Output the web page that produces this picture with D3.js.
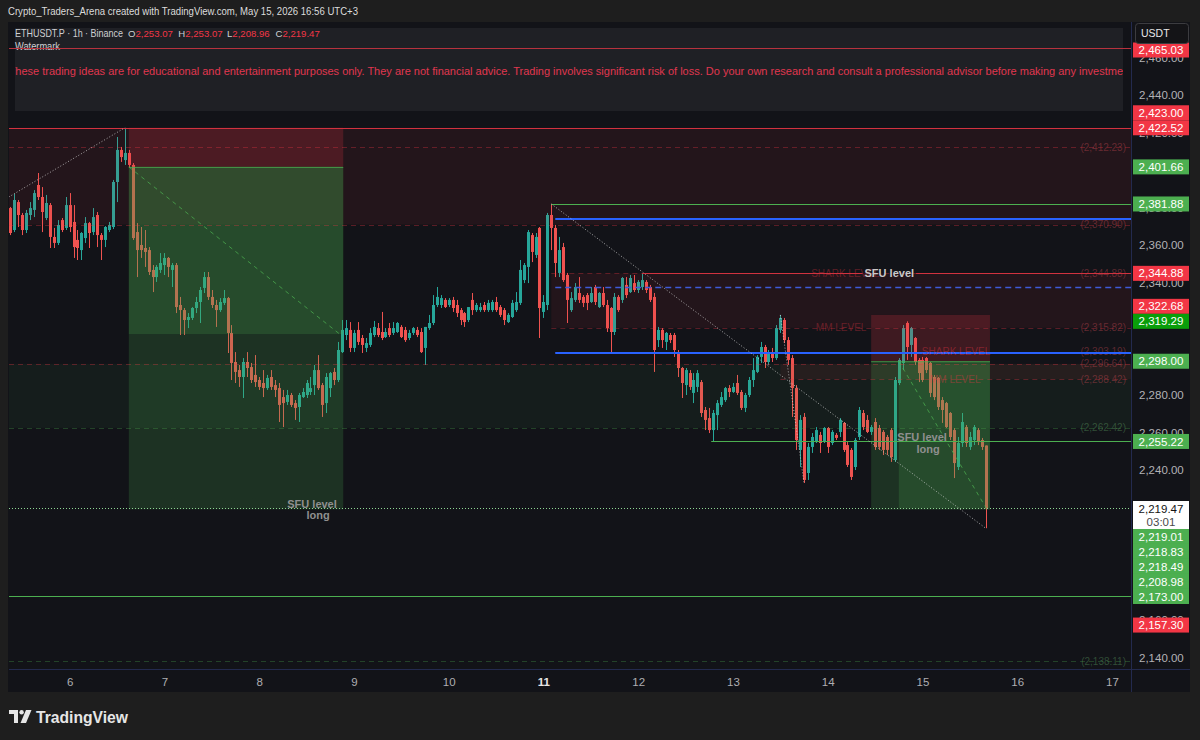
<!DOCTYPE html>
<html>
<head>
<meta charset="utf-8">
<script src="https://cdn.jsdelivr.net/npm/d3@7/dist/d3.min.js"></script>
<style>
html,body{margin:0;padding:0;background:#1e1e1e;overflow:hidden;}
svg{display:block;}
text{font-family:"Liberation Sans",Arial,sans-serif;}
</style>
</head>
<body>
<svg id="chart" width="1200" height="740"></svg>
<script>
// ================= DATA =================
// hourly candles [open, high, low, close], ETHUSDT.P 1h, UTC+3
const may05 = [ // from 09:00
[2379.7,2380.3,2365.3,2366.4],[2368.0,2387.2,2366.9,2384.0],[2382.9,2384.0,2369.6,2376.0],[2376.0,2377.1,2365.3,2368.0],
[2368.0,2378.7,2366.4,2377.1],[2376.0,2382.9,2373.3,2379.7],[2378.7,2389.3,2374.9,2387.7],[2392.0,2398.4,2384.0,2385.6],
[2385.6,2390.9,2366.9,2377.6],[2374.4,2386.7,2373.3,2382.4],[2381.3,2382.4,2358.4,2364.3],[2364.3,2369.1,2358.4,2361.1],
[2361.1,2373.3,2360.0,2370.7],[2373.3,2374.4,2366.9,2368.0],[2369.1,2385.6,2368.0,2381.3]];
const may06 = [
[2381.3,2387.7,2366.9,2369.6],[2372.3,2381.3,2353.1,2358.9],[2362.7,2368.0,2352.0,2358.4],[2357.3,2366.9,2352.0,2366.4],
[2363.7,2374.9,2361.1,2371.7],[2371.7,2372.3,2358.4,2366.4],[2366.9,2379.7,2365.3,2374.9],[2376.0,2377.6,2358.9,2365.3],
[2365.3,2366.4,2352.0,2362.7],[2362.7,2370.1,2358.9,2369.6],[2368.0,2372.3,2366.9,2370.7],[2369.6,2394.7,2368.5,2393.6],
[2393.6,2417.6,2382.9,2410.7],[2410.7,2412.3,2404.3,2406.9],[2405.3,2422.52,2402.7,2409.1],[2409.1,2410.7,2401.1,2402.7],
[2402.7,2403.7,2362.7,2363.7],[2366.9,2371.7,2342.9,2357.3],[2360.0,2369.6,2353.1,2357.3],[2358.4,2368.0,2348.3,2356.3],
[2357.3,2358.9,2344.0,2345.6],[2346.7,2349.3,2334.9,2342.9],[2342.9,2349.3,2340.3,2348.3],[2346.7,2355.7,2345.1,2350.4]];
const may07 = [
[2349.3,2355.7,2344.0,2353.1],[2353.1,2353.6,2342.9,2348.3],[2346.7,2350.4,2337.6,2349.3],[2349.3,2350.4,2323.7,2326.9],
[2328.0,2332.3,2312.0,2325.3],[2325.3,2326.4,2312.0,2320.0],[2320.0,2323.7,2315.7,2321.6],[2321.1,2326.9,2320.0,2326.4],
[2326.4,2332.3,2323.7,2329.6],[2329.6,2337.6,2318.4,2336.0],[2337.1,2345.6,2334.4,2342.9],[2342.9,2345.6,2330.7,2332.3],
[2332.3,2336.0,2326.4,2328.0],[2328.0,2330.7,2316.3,2325.3],[2325.3,2331.7,2324.3,2329.6],[2329.1,2336.0,2328.0,2331.7],
[2331.7,2332.3,2302.4,2313.1],[2313.1,2317.3,2288.0,2297.1],[2297.6,2302.9,2286.4,2292.3],[2293.3,2296.0,2284.3,2289.6],
[2289.6,2299.7,2278.4,2297.6],[2297.6,2302.9,2289.6,2294.4],[2294.9,2297.1,2286.4,2288.0],[2290.7,2301.3,2284.3,2286.9]];
const may08 = [
[2288.0,2289.6,2282.7,2284.3],[2286.4,2293.3,2278.9,2283.7],[2283.7,2290.7,2282.7,2289.1],[2289.6,2293.3,2282.7,2284.3],
[2285.3,2288.0,2278.9,2282.7],[2283.7,2286.4,2265.6,2274.7],[2278.9,2282.7,2262.9,2275.7],[2276.3,2282.7,2274.7,2280.0],
[2280.0,2281.1,2273.6,2274.7],[2275.7,2277.3,2266.7,2273.1],[2273.6,2281.1,2265.6,2280.0],[2278.9,2283.7,2278.4,2281.6],
[2280.0,2288.0,2278.4,2286.4],[2281.6,2289.6,2280.0,2283.7],[2285.3,2296.0,2280.0,2293.3],[2293.3,2301.3,2282.7,2283.7],
[2285.3,2286.4,2268.3,2274.7],[2275.7,2291.7,2270.4,2289.6],[2283.7,2292.3,2278.9,2291.7],[2292.3,2294.4,2285.3,2288.0],
[2288.0,2308.3,2286.9,2304.0],[2302.9,2320.0,2302.4,2314.7],[2312.0,2320.0,2309.3,2315.7],[2314.7,2318.9,2302.9,2305.1]];
const may09 = [
[2305.1,2314.7,2302.9,2313.1],[2314.7,2318.9,2306.7,2308.3],[2310.4,2312.0,2302.4,2306.7],[2305.1,2310.4,2302.9,2307.7],
[2306.7,2315.7,2305.6,2313.1],[2312.0,2319.5,2310.9,2316.3],[2315.7,2318.4,2310.9,2312.0],[2313.6,2324.3,2309.3,2310.4],
[2310.9,2315.7,2310.4,2313.6],[2315.7,2318.4,2310.9,2312.0],[2313.1,2318.9,2312.0,2315.7],[2313.6,2318.9,2313.1,2318.4],
[2316.3,2317.3,2310.4,2310.9],[2314.7,2316.3,2308.3,2309.3],[2310.4,2314.7,2309.3,2313.1],[2313.1,2316.3,2312.0,2315.7],
[2314.7,2316.3,2310.9,2312.0],[2313.6,2315.7,2302.4,2302.9],[2305.1,2316.3,2296.0,2316.3],[2315.7,2322.7,2314.7,2318.4],
[2318.4,2333.3,2317.3,2328.0],[2328.0,2337.6,2326.9,2332.3],[2328.0,2333.3,2326.4,2331.7],[2330.7,2331.7,2326.4,2326.9]];
const may10 = [
[2328.0,2331.7,2326.9,2330.7],[2330.7,2332.3,2324.3,2326.4],[2328.0,2330.7,2321.6,2323.7],[2325.3,2326.4,2317.3,2320.0],
[2323.7,2324.3,2316.3,2318.9],[2320.0,2326.9,2318.9,2326.9],[2330.7,2334.4,2322.7,2325.3],[2325.3,2329.1,2324.3,2328.0],
[2325.3,2329.1,2324.3,2326.9],[2328.0,2329.6,2324.3,2325.3],[2325.3,2330.7,2324.3,2329.1],[2325.3,2330.7,2324.3,2329.6],
[2329.6,2332.3,2324.3,2325.3],[2326.9,2328.0,2321.6,2322.7],[2325.3,2326.4,2317.3,2320.0],[2318.9,2323.7,2318.4,2322.7],
[2321.6,2330.7,2321.1,2329.1],[2325.3,2334.9,2324.3,2329.6],[2329.1,2352.0,2328.0,2346.7],[2341.3,2350.4,2339.7,2349.3],
[2348.3,2368.0,2339.7,2366.9],[2365.3,2366.4,2350.9,2356.3],[2354.7,2366.4,2353.1,2364.3],[2369.1,2369.6,2310.4,2326.4]];
const may11 = [
[2324.3,2333.3,2321.1,2329.6],[2328.0,2377.1,2325.3,2376.0],[2376.0,2381.88,2357.3,2369.1],[2369.1,2370.7,2342.9,2350.4],
[2345.1,2364.3,2342.9,2357.3],[2358.9,2361.1,2340.3,2341.3],[2344.0,2345.1,2318.4,2330.7],[2325.3,2334.9,2324.3,2331.7],
[2330.7,2339.7,2329.6,2337.6],[2334.4,2342.9,2329.1,2330.7],[2332.3,2333.3,2326.9,2329.1],[2333.3,2334.4,2325.3,2329.1],
[2329.6,2337.6,2329.1,2334.4],[2337.6,2338.7,2328.0,2329.6],[2326.9,2334.9,2326.4,2334.4],[2334.4,2337.6,2326.9,2328.0],
[2328.0,2330.7,2313.6,2315.7],[2326.4,2326.9,2302.4,2313.6],[2313.6,2334.4,2312.0,2332.3],[2332.3,2333.3,2324.3,2325.3],
[2330.7,2342.9,2329.1,2342.4],[2338.7,2342.9,2331.7,2333.3],[2334.9,2344.0,2334.4,2342.4],[2339.7,2344.0,2334.9,2336.0]];
const may12 = [
[2336.0,2341.3,2334.4,2340.3],[2337.6,2344.88,2336.0,2341.3],[2340.3,2341.3,2334.4,2336.0],[2337.6,2338.7,2329.6,2330.7],
[2332.3,2334.4,2292.3,2304.0],[2309.3,2316.3,2305.6,2314.7],[2314.7,2315.7,2305.1,2309.3],[2308.3,2313.6,2304.0,2313.1],
[2312.0,2313.1,2307.7,2309.3],[2312.0,2313.1,2300.3,2304.0],[2302.9,2304.0,2289.6,2294.4],[2294.4,2294.9,2278.4,2286.4],
[2285.3,2294.4,2280.0,2293.3],[2291.7,2293.3,2282.7,2284.3],[2281.1,2291.7,2275.7,2288.0],[2284.3,2293.3,2281.6,2291.7],
[2286.9,2288.0,2268.3,2270.4],[2272.0,2273.6,2261.3,2266.7],[2267.7,2273.1,2259.7,2261.3],[2261.3,2272.0,2255.22,2270.4],
[2269.3,2277.3,2261.3,2275.7],[2274.7,2281.6,2273.6,2278.9],[2277.3,2284.3,2276.3,2283.7],[2283.7,2285.3,2278.9,2281.6]];
const may13 = [
[2281.6,2286.4,2281.1,2284.3],[2286.4,2290.7,2280.0,2281.1],[2281.6,2282.7,2272.0,2273.1],[2273.1,2281.1,2270.9,2280.0],
[2280.0,2289.6,2278.9,2288.0],[2288.0,2299.7,2284.3,2293.3],[2292.3,2301.3,2291.7,2300.3],[2300.3,2308.3,2297.1,2305.6],
[2305.6,2306.7,2294.4,2297.6],[2297.6,2304.0,2296.0,2302.9],[2302.9,2305.1,2297.6,2299.7],[2299.7,2317.3,2298.7,2315.7],
[2314.7,2322.7,2313.1,2321.1],[2320.0,2321.1,2307.7,2309.3],[2309.3,2310.9,2296.0,2298.7],[2299.7,2301.3,2268.3,2283.7],
[2283.7,2285.3,2250.7,2256.0],[2250.7,2269.3,2241.6,2266.7],[2268.3,2270.4,2233.1,2234.7],[2238.4,2254.4,2234.7,2252.3],
[2252.3,2259.7,2249.1,2257.6],[2254.9,2262.9,2254.4,2261.3],[2258.7,2260.3,2249.1,2254.4],[2254.9,2262.9,2254.4,2262.4]];
const may14 = [
[2262.4,2262.9,2249.1,2252.3],[2254.4,2261.3,2253.3,2260.3],[2258.7,2259.7,2256.0,2257.1],[2260.3,2267.7,2257.6,2266.7],
[2265.1,2265.6,2249.6,2250.7],[2253.3,2254.9,2241.6,2242.7],[2250.7,2251.7,2234.7,2236.3],[2241.6,2257.1,2240.0,2256.0],
[2257.6,2273.6,2256.0,2272.0],[2270.4,2272.0,2261.3,2262.9],[2266.7,2269.3,2259.7,2260.3],[2260.3,2264.0,2258.7,2262.9],
[2265.6,2267.7,2250.7,2252.3],[2262.4,2264.0,2250.7,2252.3],[2260.3,2261.3,2248.0,2250.7],[2257.6,2258.7,2248.0,2250.7],
[2261.3,2262.4,2244.3,2246.9],[2245.3,2289.6,2244.3,2288.0],[2286.4,2299.7,2285.3,2298.7],[2297.1,2317.3,2293.3,2315.7],
[2318.4,2319.29,2298.7,2305.6],[2306.7,2316.3,2300.3,2315.7],[2310.4,2310.9,2296.0,2297.6],[2298.7,2299.7,2286.9,2291.7]];
const may15 = [ // to 16:00
[2298.7,2300.3,2286.9,2288.0],[2299.7,2300.3,2291.7,2293.3],[2297.1,2297.6,2278.9,2281.1],[2289.6,2290.7,2277.3,2278.9],
[2289.1,2289.6,2272.0,2273.6],[2277.3,2278.9,2265.1,2272.0],[2275.7,2276.3,2262.4,2262.9],[2270.4,2270.9,2256.0,2257.6],
[2261.3,2262.4,2235.7,2243.7],[2241.6,2257.6,2240.0,2254.4],[2254.4,2270.4,2252.3,2265.6],[2262.9,2264.0,2252.3,2254.4],
[2252.3,2260.3,2250.7,2257.6],[2256.0,2264.0,2253.3,2262.9],[2261.3,2262.4,2253.3,2254.9],[2256.0,2257.1,2250.7,2252.3],
[2253.07,2253.07,2208.96,2219.47]];

const dayTicks = [6,7,8,9,10,11,12,13,14,15,16,17];
const priceTicks = [2140,2160,2180,2200,2220,2240,2260,2280,2300,2320,2340,2360,2380,2400,2420,2440,2460];
const lastPrice = 2219.47;

// dashed levels (price, start hour from May 6 00:00 or null = whole chart, tone)
const levelPrices = [2412.23,2370.90,2344.88,2315.82,2303.19,2296.64,2288.42,2262.42,2138.11];
const levelStarts = [null,null,122,122,123,null,180,null,null];
const levelTones  = ['r','r','r','r','r','r','r','g','g'];

// shaded zones [top, bottom, start hour, tone]
const zones = [[2422.52,2370.90,null,'r'],[2344.88,2315.82,122,'r'],[2296.64,2262.42,null,'g'],[2296.64,2288.42,180,'r']];

// horizontal lines [price, start hour, kind]
const hLines = [[2422.52,null,'red'],[2381.88,122,'green'],[2374.0,123,'blue'],[2337.6,123,'bluedash'],
                [2302.4,123,'blue'],[2255.22,162.5,'green'],[2173.00,null,'green']];
const topLine = 2465.03;
const sfuLine = 2344.88, sfuLineStart = 145;

// short positions [start h, end h, entry, stop, target, fill start h, fill price]
const positions = [[15,69.3,2401.66,2422.52,2219.01,15,2312.5],[203,233.1,2298.00,2322.68,2218.83,210,2219.47]];

// trend lines [h1, p1, h2, p2]
const trendLines = [[-15.4,2385.6,14,2422.52],[122,2381.88,232,2208.96],[180,2322.7,186,2233.1]];

// price-scale badges [price, text, colour]
const badges = [[2465.03,'2,465.03','#f23645'],[2423.00,'2,423.00','#f23645'],[2422.52,'2,422.52','#f23645'],
  [2401.66,'2,401.66','#4caf50'],[2381.88,'2,381.88','#4caf50'],[2344.88,'2,344.88','#f23645'],
  [2322.68,'2,322.68','#f23645'],[2319.29,'2,319.29','#0a9e0a'],[2298.00,'2,298.00','#4caf50'],
  [2255.22,'2,255.22','#4caf50'],[2219.01,'2,219.01','#4caf50'],[2218.83,'2,218.83','#4caf50'],
  [2218.49,'2,218.49','#4caf50'],[2208.98,'2,208.98','#4caf50'],[2173.00,'2,173.00','#4caf50'],
  [2157.30,'2,157.30','#f23645']];

// ================= DRAW =================
const svg = d3.select('#chart');
const L = 9, R = 1131, T = 22, B = 669;
const T0 = Date.UTC(2026,4,6);
const hr = h => new Date(T0 + h*3600000);
const x = d3.scaleUtc().domain([hr(0), hr(264)]).range([69.6, 1112]);
const y = d3.scaleLinear().domain([2280,2440]).range([395,95]);
const xs = h => h === null ? L : x(hr(h));

const candles = [];
[[5,9,may05],[6,0,may06],[7,0,may07],[8,0,may08],[9,0,may09],[10,0,may10],[11,0,may11],[12,0,may12],[13,0,may13],[14,0,may14],[15,0,may15]]
 .forEach(([d,h0,arr]) => arr.forEach((b,i) => candles.push({t:new Date(Date.UTC(2026,4,d,h0+i)),o:b[0],h:b[1],l:b[2],c:b[3]})));

svg.append('rect').attr('width',1200).attr('height',740).attr('fill','#1e1e1e');
svg.append('rect').attr('x',8).attr('y',T).attr('width',1182).attr('height',692-T).attr('fill','#121318');

const defs = svg.append('defs');
defs.append('clipPath').attr('id','plotclip').append('rect').attr('x',L).attr('y',T).attr('width',R-L).attr('height',B-T);
defs.append('clipPath').attr('id','boxclip').append('rect').attr('x',15).attr('y',28).attr('width',1108).attr('height',83);

const P = svg.append('g').attr('clip-path','url(#plotclip)');

const red = a => `rgba(242,54,69,${a})`, grn = a => `rgba(76,175,80,${a})`;

// candles
const up = '#26a69a', dn = '#ef5350';
const cg = P.append('g');
cg.selectAll('line').data(candles).join('line')
  .attr('x1', d => Math.round(x(d.t)) + 0.5).attr('x2', d => Math.round(x(d.t)) + 0.5)
  .attr('y1', d => y(d.h)).attr('y2', d => y(d.l))
  .attr('stroke', d => d.c >= d.o ? up : dn).attr('stroke-width',1);
cg.selectAll('rect').data(candles).join('rect')
  .attr('x', d => Math.round(x(d.t)) - 1).attr('width',3)
  .attr('y', d => y(Math.max(d.o,d.c)))
  .attr('height', d => Math.max(1, y(Math.min(d.o,d.c)) - y(Math.max(d.o,d.c))))
  .attr('fill', d => d.c >= d.o ? up : dn);

// zones
P.selectAll('rect.zone').data(zones).join('rect').attr('class','zone')
  .attr('x', d => xs(d[2])).attr('width', d => R - xs(d[2]))
  .attr('y', d => y(d[0])).attr('height', d => y(d[1]) - y(d[0]))
  .attr('fill', d => d[3] === 'r' ? red(0.08) : grn(0.07));

// positions
positions.forEach(([s,e,entry,stop,target,fs,fp]) => {
  const x1 = x(hr(s)), x2 = x(hr(e)), xf = x(hr(fs));
  P.append('rect').attr('x',x1).attr('width',x2-x1).attr('y',y(stop)).attr('height',y(entry)-y(stop)).attr('fill',red(0.2));
  P.append('rect').attr('x',x1).attr('width',x2-x1).attr('y',y(entry)).attr('height',y(target)-y(entry)).attr('fill',grn(0.2));
  P.append('rect').attr('x',xf).attr('width',x2-xf).attr('y',y(entry)).attr('height',y(fp)-y(entry)).attr('fill',grn(0.2));
  P.append('line').attr('x1',x1).attr('x2',x2).attr('y1',y(entry)+0.5).attr('y2',y(entry)+0.5).attr('stroke',grn(0.8));
  P.append('line').attr('x1',xf).attr('y1',y(entry)).attr('x2',x(hr(e-0.9))).attr('y2',y(fp))
    .attr('stroke',grn(0.75)).attr('stroke-dasharray','4,4');
});

// dashed levels
levelPrices.forEach((p,i) => {
  const col = levelTones[i] === 'r' ? red(0.32) : grn(0.3);
  P.append('line').attr('x1',xs(levelStarts[i])).attr('x2',R).attr('y1',Math.round(y(p))+0.5).attr('y2',Math.round(y(p))+0.5)
    .attr('stroke',col).attr('stroke-dasharray','5,4');
  P.append('text').attr('x',1126).attr('y',y(p)).attr('dy','0.35em').attr('text-anchor','end')
    .attr('font-size',10).attr('fill', levelTones[i] === 'r' ? 'rgba(190,70,80,0.45)' : 'rgba(90,150,95,0.45)')
    .text('(' + d3.format(',.2f')(p) + ')');
});

// horizontal lines
const lineStyle = {red:['#d2323f',1,null], green:['#4caf50',1,null], blue:['#2962ff',2,null], bluedash:['#3f5bd8',1.3,'6,4']};
hLines.forEach(([p,s,k]) => {
  const st = lineStyle[k];
  const yy = st[1] === 2 ? Math.round(y(p)) : Math.round(y(p)) + 0.5;
  const ln = P.append('line').attr('x1',xs(s)).attr('x2',R).attr('y1',yy).attr('y2',yy)
    .attr('stroke',st[0]).attr('stroke-width',st[1]);
  if (st[2]) ln.attr('stroke-dasharray',st[2]);
});
// price line
P.append('line').attr('x1',L).attr('x2',R).attr('y1',Math.round(y(lastPrice))+0.5).attr('y2',Math.round(y(lastPrice))+0.5)
  .attr('stroke','#8fd694').attr('stroke-dasharray','1,2');

// trend lines
trendLines.forEach(([h1,p1,h2,p2]) => {
  P.append('line').attr('x1',x(hr(h1))).attr('y1',y(p1)).attr('x2',x(hr(h2))).attr('y2',y(p2))
    .attr('stroke','rgba(215,215,215,0.75)').attr('stroke-width',1).attr('stroke-dasharray','1,2');
});

// level labels
const lbl = (h,p,txt,size,fill,weight,anchor) => P.append('text').attr('x',x(hr(h))).attr('y',y(p)).attr('dy','0.35em')
  .attr('font-size',size).attr('fill',fill).attr('font-weight',weight||'normal').attr('text-anchor',anchor||'middle').text(txt);
lbl(187.8,2344.88,'SHARK LEVEL',10,red(0.35),'normal','start');
lbl(195.4,2315.82,'MM LEVEL',10,red(0.35));
lbl(224.5,2303.19,'SHARK LEVEL',10,red(0.4));
lbl(224.3,2288.42,'MM LEVEL',10,red(0.4));
// SFU level line label with gap
const sfuX = x(hr(207.6));
const sfuT = lbl(207.6,sfuLine,'SFU level',11,'#c9c9c9','bold');
const sw = sfuT.node().getComputedTextLength();
[[x(hr(sfuLineStart)), sfuX - sw/2 - 2],[sfuX + sw/2 + 2, R]].forEach(([a,b]) =>
  P.append('line').attr('x1',a).attr('x2',b).attr('y1',Math.round(y(sfuLine))+0.5).attr('y2',Math.round(y(sfuLine))+0.5)
   .attr('stroke','#d2323f').attr('stroke-width',1));
// SFU level long labels
[[61.4,2222.0],[215.9,2257.5]].forEach(([h,p]) => {
  lbl(h,p,'SFU level',11,'#8f8f8f','bold');
  P.append('text').attr('x',x(hr(h))+6).attr('y',y(p)+11.5).attr('dy','0.35em').attr('text-anchor','middle')
    .attr('font-size',11).attr('font-weight','bold').attr('fill','#8f8f8f').text('long');
});

// legend / disclaimer box
svg.append('rect').attr('x',15).attr('y',28).attr('width',1108).attr('height',83).attr('fill','#1f2025');
const fit = (g,str,xx,yy,len,size,fill,weight) => g.append('text').attr('x',xx).attr('y',yy).attr('font-size',size)
  .attr('fill',fill).attr('font-weight',weight||'normal').attr('textLength',len).attr('lengthAdjust','spacingAndGlyphs').text(str);
const bx = svg.append('g').attr('clip-path','url(#boxclip)');
fit(bx,'These trading ideas are for educational and entertainment purposes only. They are not financial advice. Trading involves significant risk of loss. Do your own research and consult a professional advisor before making any investme',
  8.6,75,1114.4,11.5,'#e0374f');
fit(svg,'ETHUSDT.P · 1h · Binance',15,36.5,108,10.5,'#cfd0d3');
const ohlc = [['O','2,253.07',128],['H','2,253.07',178.3],['L','2,208.96',227],['C','2,219.47',275.5]];
ohlc.forEach(([k,v,a]) => {
  const t = svg.append('text').attr('x',a).attr('y',36.5).attr('font-size',9.6);
  t.append('tspan').attr('fill','#cfd0d3').text(k);
  t.append('tspan').attr('fill','#f23645').text(v);
});
fit(svg,'Watermark',15,49.5,45,10.5,'#cfd0d3');
svg.append('line').attr('x1',L).attr('x2',R).attr('y1',Math.round(y(topLine))+0.5).attr('y2',Math.round(y(topLine))+0.5)
  .attr('stroke','#b8323e').attr('stroke-width',1);

// header
fit(svg,'Crypto_Traders_Arena created with TradingView.com, May 15, 2026 16:56 UTC+3',8,15,350,11.5,'#dcdcdc');

// separators
svg.append('line').attr('x1',R+0.5).attr('x2',R+0.5).attr('y1',T).attr('y2',692).attr('stroke','#232a4e');
svg.append('line').attr('x1',L).attr('x2',1190).attr('y1',B+0.5).attr('y2',B+0.5).attr('stroke','#232a4e');

// badges with stacking around current price badge
const BH = 15, bx0 = R + 2, bw = 56, cx0 = bx0 + bw/2;
const anchorY = y(lastPrice), aTop = anchorY - 7.5, aBot = anchorY + 20.5;
const placed = badges.map(b => ({p:b[0], t:b[1], c:b[2], cy:y(b[0])}));
let lim = aTop;
placed.filter(b => b.p > lastPrice).sort((a,b) => b.cy - a.cy).forEach(b => { b.cy = Math.min(b.cy, lim - BH/2); lim = b.cy - BH/2; });
lim = aBot;
placed.filter(b => b.p <= lastPrice).sort((a,b) => a.cy - b.cy).forEach(b => { b.cy = Math.max(b.cy, lim + BH/2); lim = b.cy + BH/2; });
placed.forEach(b => { b.cy = Math.max(b.cy, 50); });
const spans = placed.map(b => [b.cy - BH/2, b.cy + BH/2]).concat([[aTop, aBot]]);
const inside = v => spans.some(([a,b]) => v >= a && v <= b);

// price axis (labels fully hidden behind badges are not drawn)
const ya = svg.append('g').attr('transform',`translate(${R+8},0)`)
  .call(d3.axisRight(y).tickValues(priceTicks.filter(p => !(inside(y(p)-4) && inside(y(p)+4))))
    .tickFormat(d3.format(',.2f')).tickSize(0).tickPadding(0));
ya.select('.domain').remove();
ya.selectAll('text').attr('fill','#b2b2b6').attr('font-size',11.5).attr('font-family','"Liberation Sans",Arial,sans-serif');

// time axis
const xa = svg.append('g').attr('transform',`translate(0,${B})`)
  .call(d3.axisBottom(x).tickValues(dayTicks.map(d => new Date(Date.UTC(2026,4,d)))).tickFormat(d => d.getUTCDate()).tickSize(0).tickPadding(9));
xa.select('.domain').remove();
xa.selectAll('text').attr('fill', d => d.getUTCDate() === 11 ? '#e6e6e6' : '#aeaeb2').attr('font-size',11.5)
  .attr('font-weight', d => d.getUTCDate() === 11 ? 'bold' : 'normal').attr('font-family','"Liberation Sans",Arial,sans-serif');

const bg = svg.append('g');
bg.selectAll('rect').data(placed).join('rect').attr('x',bx0).attr('width',bw).attr('y',d => d.cy - BH/2).attr('height',BH)
  .attr('fill',d => d.c);
bg.selectAll('text').data(placed).join('text').attr('x',cx0).attr('y',d => d.cy).attr('dy','0.36em').attr('text-anchor','middle')
  .attr('font-size',11.5).attr('fill','#ffffff').text(d => d.t);
bg.append('rect').attr('x',bx0).attr('width',bw).attr('y',aTop).attr('height',aBot-aTop).attr('fill','#ffffff');
bg.append('text').attr('x',cx0).attr('y',anchorY).attr('dy','0.36em').attr('text-anchor','middle').attr('font-size',11.5)
  .attr('fill','#131313').text(d3.format(',.2f')(lastPrice));
bg.append('text').attr('x',cx0).attr('y',anchorY+13).attr('dy','0.36em').attr('text-anchor','middle').attr('font-size',11.5)
  .attr('fill','#4a4a4a').text('03:01');

// currency button
svg.append('rect').attr('x',1135.5).attr('y',23.5).attr('width',53).attr('height',20).attr('rx',3)
  .attr('fill','#141417').attr('stroke','#3c3c40');
svg.append('text').attr('x',1141).attr('y',33.5).attr('dy','0.36em').attr('font-size',10.5).attr('fill','#e8e8e8').text('USDT');

// footer logo
const lg = svg.append('g').attr('transform','translate(9,710)');
lg.append('path').attr('d','M0,0H9V13H5V4H0Z').attr('fill','#e6e6e6');
lg.append('circle').attr('cx',12.6).attr('cy',2.2).attr('r',2.2).attr('fill','#e6e6e6');
lg.append('path').attr('d','M17,0H22.5L17,13H11.5Z').attr('fill','#e6e6e6');
fit(svg,'TradingView',36,723,92,16,'#e6e6e6','bold');
</script>
</body>
</html>
